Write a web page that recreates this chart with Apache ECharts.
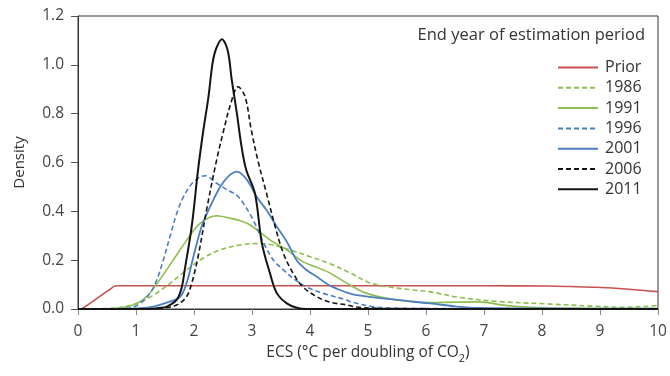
<!DOCTYPE html>
<html>
<head>
<meta charset="utf-8">
<script src="https://cdn.jsdelivr.net/npm/echarts@6/dist/echarts.min.js"></script>
<style>html,body{margin:0;padding:0;background:#fff}#c{width:670px;height:376px}</style>
</head>
<body>
<div id="c"></div>
<script>
var seriesNames = ['Prior', '1986', '1991', '1996', '2001', '2006', '2011'];
var xTicks = [0, 1, 2, 3, 4, 5, 6, 7, 8, 9, 10];
var yTicks = [0, 0.2, 0.4, 0.6, 0.8, 1.0, 1.2];

var prior = [[0.06,0],[0.2,0.022],[0.4,0.056],[0.55,0.08],[0.64,0.094],[0.7,0.095],[2,0.095],[4,0.095],[6,0.095],[7,0.095],[8.08,0.094],[8.5,0.092],[8.94,0.089],[9.5,0.081],[10,0.071]];
var y1986 = [[0,0],[0.5,0.002],[0.72,0.006],[1.01,0.023],[1.3,0.057],[1.59,0.105],[1.87,0.16],[2.16,0.208],[2.45,0.242],[2.79,0.262],[3.02,0.268],[3.31,0.264],[3.66,0.242],[4.0,0.214],[4.34,0.186],[4.69,0.148],[5.0,0.11],[5.3,0.092],[5.78,0.078],[6.13,0.068],[6.53,0.049],[7.22,0.031],[8.08,0.021],[8.94,0.011],[9.4,0.007],[9.8,0.011],[10,0.015]];
var y1991 = [[0,0],[0.5,0.001],[0.72,0.004],[0.95,0.016],[1.18,0.05],[1.41,0.12],[1.64,0.2],[1.87,0.28],[2.1,0.35],[2.39,0.382],[2.62,0.372],[2.79,0.362],[2.97,0.344],[3.31,0.283],[3.6,0.242],[3.88,0.194],[4.23,0.16],[4.34,0.148],[4.69,0.098],[4.98,0.064],[5.5,0.037],[6.07,0.026],[6.5,0.028],[6.93,0.029],[7.33,0.016],[7.79,0.007],[8.5,0.003],[10,0.002]];
var y1996 = [[0,0],[0.6,0.001],[0.9,0.004],[1.07,0.023],[1.24,0.064],[1.36,0.12],[1.47,0.2],[1.59,0.3],[1.7,0.39],[1.82,0.46],[1.99,0.52],[2.19,0.546],[2.39,0.515],[2.56,0.49],[2.74,0.465],[2.85,0.433],[3.02,0.365],[3.2,0.27],[3.37,0.2],[3.54,0.16],[3.71,0.126],[3.94,0.09],[4.23,0.064],[4.63,0.037],[4.69,0.03],[5.17,0.007],[6,0.002],[10,0.001]];
var y2001 = [[0,0],[0.8,0.001],[1.07,0.003],[1.3,0.01],[1.53,0.026],[1.76,0.05],[1.87,0.105],[1.99,0.214],[2.13,0.337],[2.28,0.42],[2.45,0.5],[2.6,0.545],[2.74,0.563],[2.91,0.53],[3.08,0.46],[3.25,0.405],[3.43,0.337],[3.6,0.276],[3.77,0.2],[3.94,0.16],[4.12,0.132],[4.34,0.096],[4.63,0.068],[4.8,0.057],[5.5,0.037],[6.07,0.023],[6.53,0.01],[6.93,0.004],[8,0.002],[10,0.001]];
var y2006 = [[0,0],[1.2,0],[1.47,0.004],[1.7,0.016],[1.87,0.05],[1.96,0.105],[2.07,0.214],[2.22,0.41],[2.39,0.61],[2.51,0.73],[2.62,0.83],[2.76,0.91],[2.88,0.87],[2.99,0.73],[3.11,0.6],[3.25,0.474],[3.4,0.337],[3.54,0.228],[3.71,0.146],[3.88,0.09],[4.12,0.05],[4.34,0.028],[4.63,0.017],[4.8,0.008],[5.3,0.002],[10,0]];
var y2011 = [[0,0],[1.2,0],[1.4,0.004],[1.53,0.01],[1.7,0.037],[1.79,0.09],[1.84,0.16],[1.96,0.337],[2.07,0.57],[2.16,0.73],[2.25,0.87],[2.32,1.007],[2.38,1.065],[2.48,1.105],[2.58,1.06],[2.65,0.94],[2.74,0.8],[2.82,0.665],[2.9,0.57],[3.05,0.474],[3.17,0.27],[3.31,0.146],[3.43,0.064],[3.6,0.023],[3.77,0.005],[3.95,0],[10,0]];

var colors = {red:'#c8524f', green:'#8dbe4e', blue:'#4b7fc1', black:'#141414'};
var FONT = 'Open Sans';

function mk(name, data, color, dashed, width) {
  return {
    name: name, type: 'line', data: data, smooth: 0.35, symbol: 'none', showSymbol: false,
    lineStyle: {color: color, width: width, type: dashed ? [5, 3] : 'solid'},
    itemStyle: {color: color}, z: 3
  };
}

var chart = echarts.init(document.getElementById('c'), null, {renderer: 'canvas'});
chart.setOption({
  animation: false,
  textStyle: {fontFamily: FONT},
  grid: {left: 78, right: 12, top: 16, bottom: 67, show: true, borderColor: '#333', borderWidth: 1, backgroundColor: 'transparent'},
  xAxis: {
    type: 'value', min: xTicks[0], max: xTicks[xTicks.length - 1], interval: 1,
    name: '{a|ECS (°C per doubling of CO}{s|2}{a|)}', nameLocation: 'middle', nameGap: 30,
    nameTextStyle: {
      fontSize: 15.5, color: '#333', fontFamily: FONT,
      rich: {
        a: {fontSize: 15.5, color: '#333', fontFamily: FONT, lineHeight: 22, verticalAlign: 'middle'},
        s: {fontSize: 11, color: '#333', fontFamily: FONT, lineHeight: 22, verticalAlign: 'bottom'}
      }
    },
    axisLine: {show: true, lineStyle: {color: '#333', width: 1.2}},
    axisTick: {show: true, inside: false, length: 6, lineStyle: {color: '#888'}},
    axisLabel: {fontSize: 15.5, color: '#444', margin: 15, fontFamily: FONT},
    splitLine: {show: false}
  },
  yAxis: {
    type: 'value', min: yTicks[0], max: yTicks[yTicks.length - 1], interval: 0.2,
    name: 'Density', nameLocation: 'middle', nameGap: 51,
    nameTextStyle: {fontSize: 15, color: '#333', fontFamily: FONT},
    axisLine: {show: true, lineStyle: {color: '#333', width: 1}},
    axisTick: {show: true, inside: false, length: 7, lineStyle: {color: '#555'}},
    axisLabel: {fontSize: 15.5, color: '#444', margin: 14, fontFamily: FONT, formatter: function (v) { return v.toFixed(1); }},
    splitLine: {show: false}
  },
  legend: {
    orient: 'vertical', left: 557, top: 59.5, padding: 0, itemWidth: 40, itemHeight: 14, itemGap: 4.3,
    data: seriesNames,
    itemStyle: {opacity: 0},
    textStyle: {fontSize: 16, color: '#333', fontFamily: FONT, padding: [0, 0, 0, 2]}
  },
  graphic: [{
    type: 'text', right: 25, top: 27,
    style: {text: 'End year of estimation period', fontSize: 16.5, fill: '#333', fontFamily: FONT}
  }],
  series: [
    mk(seriesNames[0], prior, colors.red, false, 1.6),
    mk(seriesNames[1], y1986, colors.green, true, 1.6),
    mk(seriesNames[2], y1991, colors.green, false, 1.6),
    mk(seriesNames[3], y1996, colors.blue, true, 1.6),
    mk(seriesNames[4], y2001, colors.blue, false, 1.8),
    mk(seriesNames[5], y2006, colors.black, true, 1.6),
    mk(seriesNames[6], y2011, colors.black, false, 2)
  ]
});
</script>
</body>
</html>
